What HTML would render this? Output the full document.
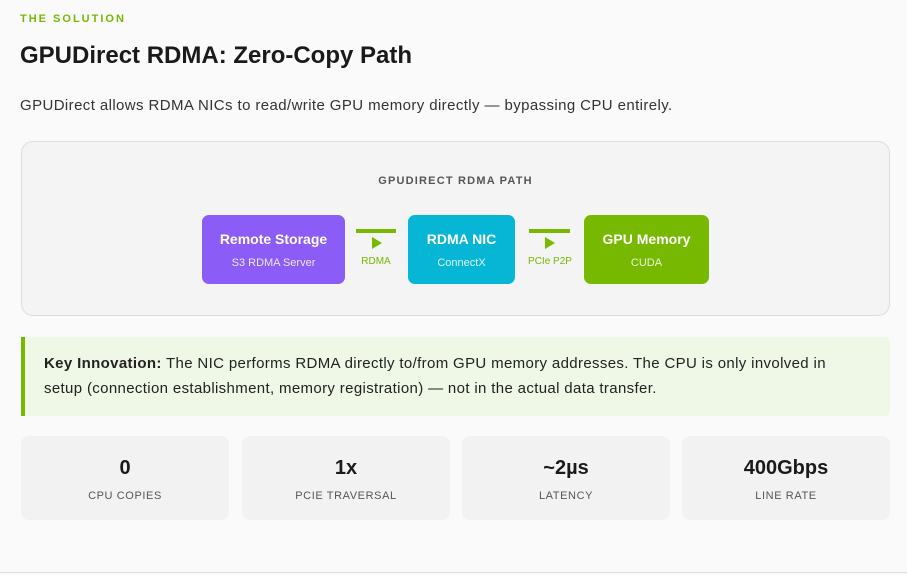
<!DOCTYPE html>
<html><head><meta charset="utf-8"><style>
*{margin:0;padding:0;box-sizing:border-box}
body{width:907px;height:575px;background:#fafafa;font-family:"Liberation Sans",sans-serif;position:relative;overflow:hidden;color:#1a1a1a}
.a{position:absolute}
.box{position:absolute;top:215px;height:69px;border-radius:7px;color:#fff;text-align:center}
.box b{display:block;font-size:14px;margin-top:16px}
.box span{display:block;font-size:11px;margin-top:10px;opacity:.85}
.ln{position:absolute;top:229px;height:4px;background:#76b900}
.tri{position:absolute;top:237px;width:0;height:0;border-left:10px solid #76b900;border-top:6px solid transparent;border-bottom:6px solid transparent}
.lb{position:absolute;top:256px;font-size:10px;color:#76b900;text-align:center}
.card{position:absolute;top:436px;height:84px;width:208px;background:#f2f2f2;border-radius:8px;text-align:center}
.card b{display:block;font-size:20px;margin-top:21px}
.card span{display:block;font-size:11px;letter-spacing:.6px;color:#555;margin-top:10px}
</style></head><body>
<div class="a" style="left:20px;top:13px;font-size:11px;font-weight:bold;letter-spacing:2px;color:#76b900">THE SOLUTION</div>
<div class="a" style="left:20px;top:42px;font-size:24px;font-weight:bold">GPUDirect RDMA: Zero-Copy Path</div>
<div class="a" style="left:20px;top:97px;font-size:15px;color:#333;letter-spacing:0.4px">GPUDirect allows RDMA NICs to read/write GPU memory directly — bypassing CPU entirely.</div>
<div class="a" style="left:21px;top:141px;width:869px;height:175px;background:#f4f4f4;border:1px solid #ddd;border-radius:12px"></div>
<div class="a" style="left:21px;top:175px;width:869px;text-align:center;font-size:11px;font-weight:bold;letter-spacing:1.2px;color:#555">GPUDIRECT RDMA PATH</div>
<div class="box" style="left:202px;width:143px;background:#8b5cf6"><b>Remote Storage</b><span>S3 RDMA Server</span></div>
<div class="ln" style="left:356px;width:40px"></div><div class="tri" style="left:372px"></div><div class="lb" style="left:352px;width:48px">RDMA</div>
<div class="box" style="left:408px;width:107px;background:#06b6d4"><b>RDMA NIC</b><span>ConnectX</span></div>
<div class="ln" style="left:529px;width:41px"></div><div class="tri" style="left:545px"></div><div class="lb" style="left:520px;width:60px">PCIe P2P</div>
<div class="box" style="left:584px;width:125px;background:#76b900"><b>GPU Memory</b><span>CUDA</span></div>
<div class="a" style="left:21px;top:337px;width:869px;height:79px;background:#eff8e6;border-left:4px solid #76b900;border-radius:0 6px 6px 0;padding:14px 20px 0 19px;font-size:15px;line-height:25px;color:#222;letter-spacing:0.35px"><div style="width:815px"><b>Key Innovation:</b> The NIC performs RDMA directly to/from GPU memory addresses. The CPU is only involved in setup (connection establishment, memory registration) — not in the actual data transfer.</div></div>
<div class="card" style="left:21px"><b>0</b><span>CPU COPIES</span></div>
<div class="card" style="left:242px"><b>1x</b><span>PCIE TRAVERSAL</span></div>
<div class="card" style="left:462px"><b>~2µs</b><span>LATENCY</span></div>
<div class="card" style="left:682px"><b>400Gbps</b><span>LINE RATE</span></div>
<div class="a" style="left:0;top:572px;width:907px;height:1px;background:#ddd"></div>
</body></html>
